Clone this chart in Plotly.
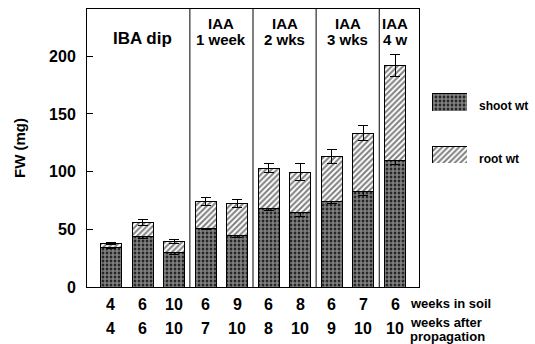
import plotly.graph_objects as go

# Fresh weight of shoots and roots per propagation treatment
weeks_in_soil = ["4", "6", "10", "6", "9", "6", "8", "6", "7", "6"]
weeks_after_prop = ["4", "6", "10", "7", "10", "8", "10", "9", "10", "10"]
shoot_wt = [34.5, 43.5, 30, 51, 45, 68, 64.5, 74, 82.5, 110]
root_wt = [3, 12.5, 9.5, 23, 27, 35, 35, 39, 51, 82]
shoot_err = [1, 1.5, 1.5, 1.5, 2, 2, 3, 2, 3, 4]
total_err = [1, 2.5, 1.5, 3.5, 3.5, 4, 7.5, 6, 6.5, 9.5]
group_top = ["", "IAA", "IAA", "IAA", "IAA"]
group_bottom = ["IBA dip", "1 week", "2 wks", "3 wks", "4 w"]
group_pos = [1, 3.5, 5.5, 7.5, 9]
group_edges = [2.5, 4.5, 6.5, 8.5]

FONT = "Arial, Liberation Sans, sans-serif"
W, H = 535, 344
L, T, B = 87, 9, 57
PW, PH = W - L, H - T - B


def px_x(px):
    return (px - L) / PW


def px_y(py):
    return (H - B - py) / PH


xs = list(range(len(shoot_wt)))
# checker for shoots (white dots on black), fine diagonal hatch for roots
shoot_pattern = dict(shape=".", size=4, solidity=0.75, fgcolor="white", bgcolor="black")
root_pattern = dict(shape="/", size=4, solidity=0.5, fgcolor="black", bgcolor="white")

fig = go.Figure()
fig.add_trace(go.Bar(
    x=xs, y=shoot_wt, width=0.665, name="shoot wt",
    marker=dict(color="black", pattern=shoot_pattern, line=dict(color="black", width=1)),
    error_y=dict(type="data", array=shoot_err, color="black", thickness=1, width=5),
    showlegend=False,
))
fig.add_trace(go.Bar(
    x=xs, y=root_wt, width=0.665, name="root wt",
    marker=dict(color="white", pattern=root_pattern, line=dict(color="black", width=1)),
    error_y=dict(type="data", array=total_err, color="black", thickness=1, width=5),
    showlegend=False,
))

# Legend swatches drawn as single bars in small side axes
fig.add_trace(go.Bar(
    x=[0], y=[1], width=1, xaxis="x2", yaxis="y2", showlegend=False, hoverinfo="skip",
    marker=dict(color="black", pattern=shoot_pattern, line=dict(color="black", width=1)),
))
fig.add_trace(go.Bar(
    x=[0], y=[1], width=1, xaxis="x3", yaxis="y3", showlegend=False, hoverinfo="skip",
    marker=dict(color="white", pattern=root_pattern, line=dict(color="black", width=1)),
))

main_right = px_x(419)
fig.update_layout(
    width=W, height=H,
    margin=dict(l=L, r=0, t=T, b=B),
    paper_bgcolor="white", plot_bgcolor="white",
    barmode="stack",
    font=dict(family=FONT, color="black", size=14, weight="bold"),
    xaxis=dict(
        domain=[0, main_right], range=[-0.76, 9.76],
        showticklabels=False, ticks="", showgrid=False, zeroline=False,
        showline=True, linecolor="black", linewidth=1, mirror=True,
    ),
    yaxis=dict(
        range=[0, 241], tickvals=[0, 50, 100, 150, 200],
        ticks="inside", ticklen=6, tickcolor="black", tickwidth=1,
        tickfont=dict(size=16, family=FONT, weight="bold"),
        ticklabelstandoff=7,
        showgrid=False, zeroline=False,
        showline=True, linecolor="black", linewidth=1, mirror=True,
    ),
    xaxis2=dict(domain=[px_x(432), px_x(467)], range=[-0.5, 0.5], anchor="y2", visible=False),
    yaxis2=dict(domain=[px_y(111), px_y(93)], range=[0, 1], anchor="x2", visible=False),
    xaxis3=dict(domain=[px_x(432), px_x(467)], range=[-0.5, 0.5], anchor="y3", visible=False),
    yaxis3=dict(domain=[px_y(163), px_y(146)], range=[0, 1], anchor="x3", visible=False),
)

for xe in group_edges:
    fig.add_shape(type="line", x0=xe, x1=xe, y0=0, y1=1, xref="x", yref="y domain",
                  line=dict(color="black", width=1))


def label(x, y, text, size, xref="x", xanchor="center", angle=0):
    return dict(x=x, y=y, xref=xref, yref="paper", text=text, showarrow=False,
                xanchor=xanchor, yanchor="middle", textangle=angle,
                font=dict(size=size))


annotations = []
# Treatment group headers
for gx, top, bottom in zip(group_pos, group_top, group_bottom):
    if top:
        annotations.append(label(gx, px_y(23), top, 15))
        annotations.append(label(gx, px_y(40), bottom, 15))
    else:
        annotations.append(label(gx, px_y(38), bottom, 17))

# Two rows of category labels under the bars
for xi, a, b in zip(xs, weeks_in_soil, weeks_after_prop):
    annotations.append(label(xi, px_y(304), a, 16))
    annotations.append(label(xi, px_y(328), b, 16))

annotations += [
    label(px_x(408), px_y(303), "weeks in soil", 13, xref="paper", xanchor="left"),
    label(px_x(408), px_y(322), "weeks after", 13, xref="paper", xanchor="left"),
    label(px_x(408), px_y(336), "propagation", 13, xref="paper", xanchor="left"),
    label(px_x(477), px_y(106), "shoot wt", 12, xref="paper", xanchor="left"),
    label(px_x(477), px_y(159), "root wt", 12, xref="paper", xanchor="left"),
    label(px_x(19), px_y(148), "FW (mg)", 15, xref="paper", angle=-90),
]
fig.update_layout(annotations=annotations)

fig.write_html("out.html")
